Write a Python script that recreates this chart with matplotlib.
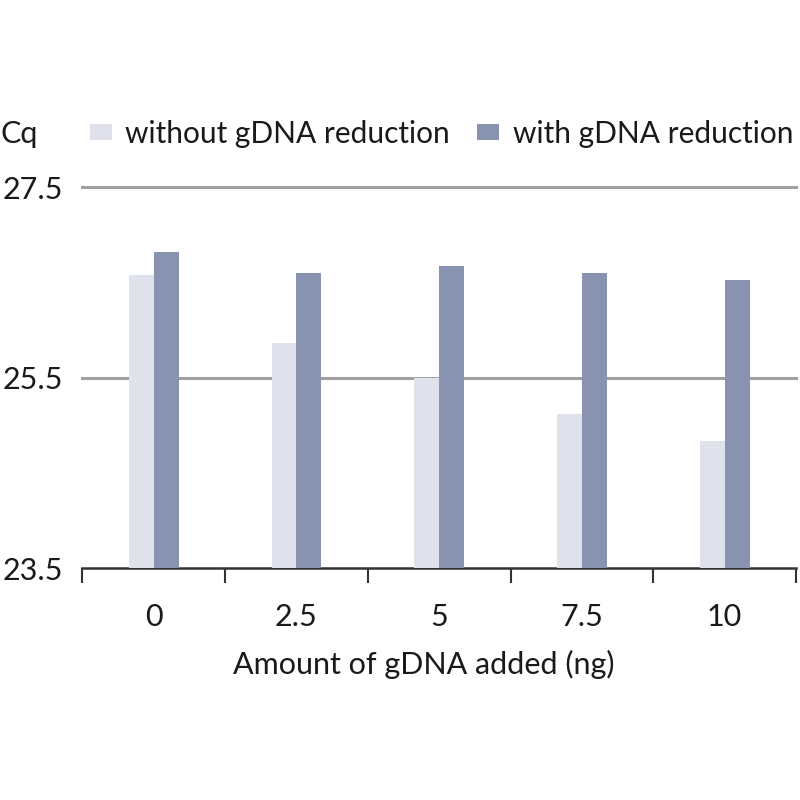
import matplotlib
matplotlib.use("Agg")
import matplotlib.pyplot as plt
import numpy as np

#### Data
categories  = ["0", "2.5", "5", "7.5", "10"]
without_red = [26.58, 25.86, 25.50, 25.12, 24.84]   # without gDNA reduction
with_red    = [26.82, 26.60, 26.67, 26.60, 26.53]   # with gDNA reduction
yticks      = [23.5, 25.5, 27.5]
series_names = ["without gDNA reduction", "with gDNA reduction"]

#### Style
col_light = "#dfe1ec"
col_dark  = "#8893b2"
col_grid  = "#a0a0a0"
col_text  = "#1a1a1a"
plt.rcParams['font.family'] = ['Lato', 'DejaVu Sans']
fs = 22

fig = plt.figure(figsize=(8, 8), dpi=100)
ax = fig.add_axes([0.103, 0.2896, 0.892, 0.4766])

x = np.arange(len(categories))
w = 0.175
ax.bar(x - w/2, without_red, w, color=col_light, label=series_names[0], zorder=3)
ax.bar(x + w/2, with_red, w, color=col_dark, label=series_names[1], zorder=3)

ax.set_ylim(yticks[0], yticks[-1])
ax.set_xlim(-0.5, len(categories) - 0.5)

for yv in yticks[1:]:
   ax.axhline(yv, color=col_grid, lw=2.2, zorder=1, clip_on=False)

#### Spines / ticks
for s in ["left", "right", "top"]:
   ax.spines[s].set_visible(False)
ax.spines["bottom"].set_color("#333333")
ax.spines["bottom"].set_linewidth(1.8)

ax.set_yticks(yticks)
ax.set_yticklabels([("%.1f" % v) for v in yticks], fontsize=fs, color=col_text)
ax.tick_params(axis="y", length=0, pad=14)

ax.set_xticks(x)
ax.set_xticklabels(categories, fontsize=fs, color=col_text)
ax.set_xticks(np.arange(-0.5, len(categories)), minor=True)
ax.tick_params(axis="x", which="major", length=0, pad=25)
ax.tick_params(axis="x", which="minor", length=11, width=1.5, color="#333333", direction="out")
ax.set_xlabel("Amount of gDNA added (ng)", fontsize=fs, color=col_text)
ax.xaxis.set_label_coords(0.478, -0.215)

#### Cq label + legend
fig.text(0.0, 0.833, "Cq", fontsize=fs, color=col_text, va="center", ha="left")
leg = ax.legend(loc="center left", bbox_to_anchor=(0.112, 0.833), bbox_transform=fig.transFigure,
                ncol=2, frameon=False, fontsize=21.5, handlelength=0.75, handleheight=0.45,
                handletextpad=0.45, columnspacing=0.9, borderaxespad=0, borderpad=0)
for t in leg.get_texts():
   t.set_color(col_text)

fig.savefig("out.png", dpi=100)
